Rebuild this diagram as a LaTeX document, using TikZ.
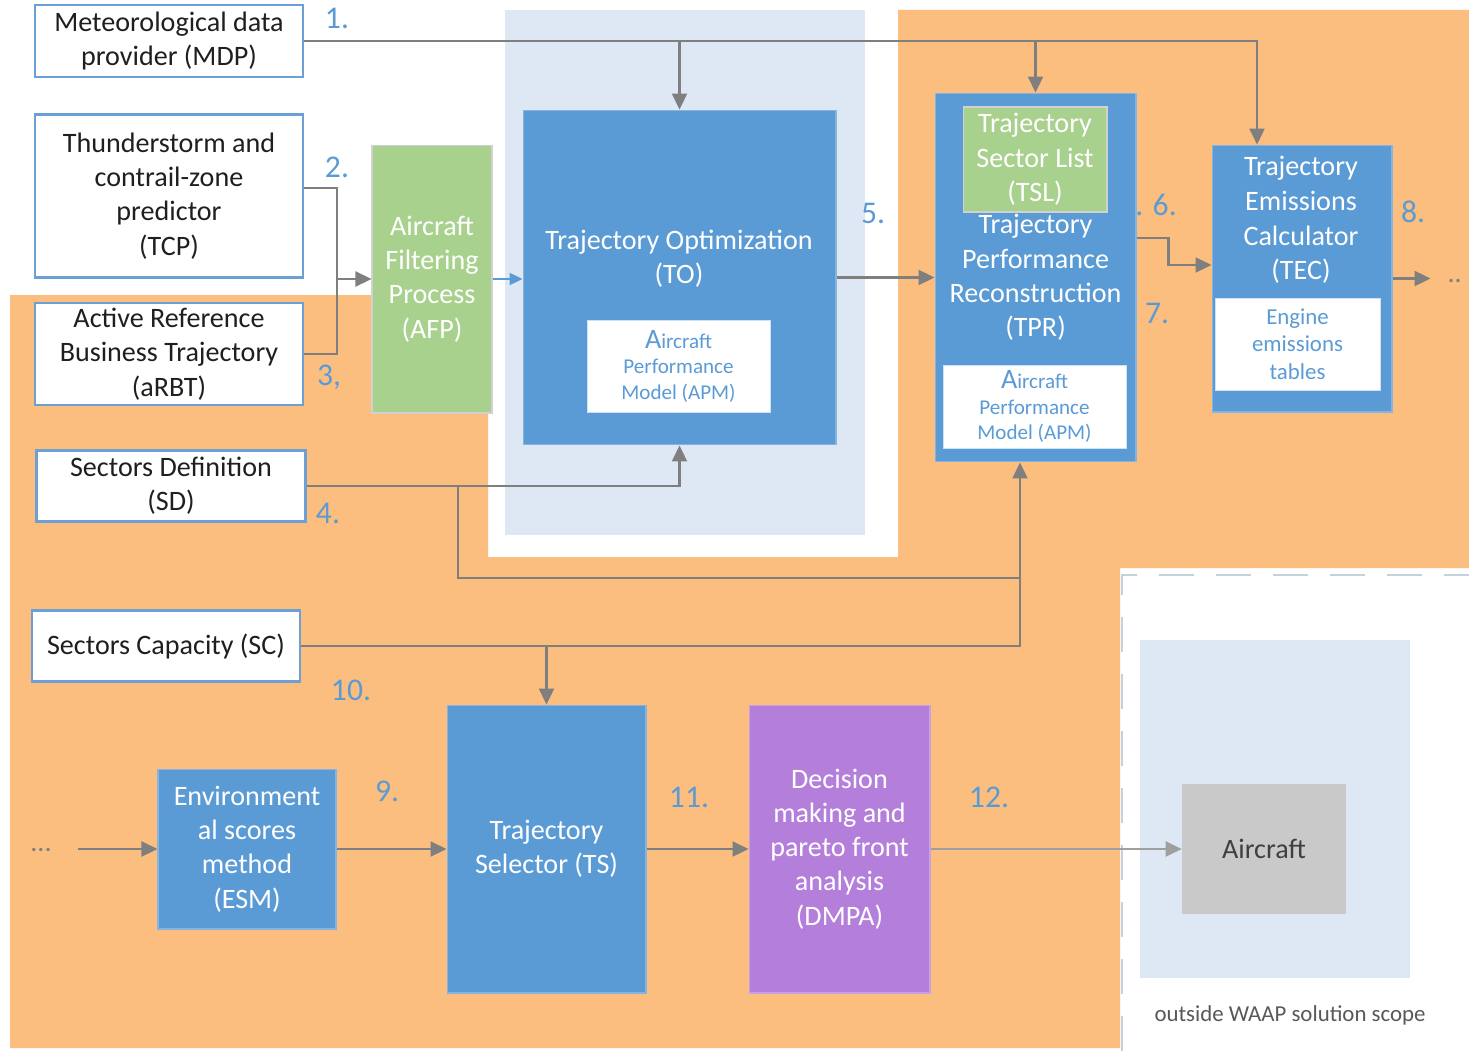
\documentclass[tikz,border=0pt]{standalone}
\usepackage{fontspec}
\setmainfont{Carlito}
\usetikzlibrary{calc, shapes, fit, arrows.meta}

\definecolor{bgorange}{HTML}{FBBE7E}
\definecolor{paleblue}{HTML}{DDE8F4}
\definecolor{blkblue}{HTML}{5B9BD5}
\definecolor{blkgreen}{HTML}{A9D18E}
\definecolor{blkpurple}{HTML}{B47FDB}
\definecolor{numblue}{HTML}{5B9BD5}
\definecolor{arrgray}{HTML}{7F7F7F}
\definecolor{boxline}{HTML}{6C9FD6}
\definecolor{acgray}{HTML}{C9C9C9}

\tikzset{
	inbox/.style={draw=boxline, line width=1.3pt, fill=white, align=center, text=black!88, inner sep=0pt, font=\fontsize{16}{19.5}\selectfont},
	blk/.style={fill=blkblue, draw=blkblue!75!white, line width=0.6pt, align=center, text=white, inner sep=0pt, font=\fontsize{16}{19.5}\selectfont},
	apm/.style={fill=white, draw=blkblue!30, line width=0.4pt, align=center, text=blkblue, inner sep=0pt, font=\fontsize{12}{14.5}\selectfont},
	num/.style={text=numblue, font=\fontsize{18}{20}\selectfont},
	con/.style={draw=arrgray, line width=1.3pt},
	arr/.style={con, -{Triangle[length=0.32cm,width=0.3cm]}},
}

\begin{document}
\begin{tikzpicture}[x=0.02cm, y=-0.02cm]
			\useasboundingbox (0,0) rectangle (1469,1051);
			% backgrounds
			\fill[white] (0,0) rectangle (1469,1051);
			\fill[bgorange] (10,295) -- (488,295) -- (488,557) -- (898,557) -- (898,10) -- (1469,10) -- (1469,568) -- (1120,568) -- (1120,1048) -- (10,1048) -- cycle;
			\fill[paleblue] (505,10) rectangle (865,535);
			\draw[draw=black!10!paleblue, line width=1.2pt, dash pattern=on 0.7cm off 0.44cm] (1122,1051) -- (1122,575) -- (1469,575);
			\fill[paleblue] (1140,640) rectangle (1410,978);
			
			% inputs
			\node (mdp) [inbox, minimum width=5.36cm, minimum height=1.44cm] at (169,41) {Meteorological data\\provider (MDP)};
			\node (tcp) [inbox, minimum width=5.36cm, minimum height=3.26cm] at (169,196) {Thunderstorm and\\contrail-zone\\predictor\\(TCP)};
			\node (arbt) [inbox, minimum width=5.36cm, minimum height=2.04cm] at (169,354) {Active Reference\\Business Trajectory\\(aRBT)};
			\node (sd) [inbox, minimum width=5.38cm, minimum height=1.42cm] at (171,486) {Sectors Definition\\(SD)};
			\node (sc) [inbox, minimum width=5.36cm, minimum height=1.42cm] at (166,646) {Sectors Capacity (SC)};
			
			% process blocks
			\node (afp) [blk, fill=blkgreen, draw=black!18, minimum width=2.4cm, minimum height=5.36cm] at (432,279) {Aircraft\\Filtering\\Process\\(AFP)};
			\node (to) [blk, minimum width=6.26cm, minimum height=6.7cm] at (679.5,277.5) {};
			\node (totxt) [text=white, align=center, font=\fontsize{16}{19.5}\selectfont] at (679,259) {Trajectory Optimization\\(TO)};
			\node (toapm) [apm, minimum width=3.66cm, minimum height=1.84cm] at (678.5,366) {{\fontsize{16}{14.5}\selectfont A}ircraft\\Performance\\Model (APM)};
			
			\node (tpr) [blk, minimum width=4.02cm, minimum height=7.38cm] at (1035.5,277.5) {Trajectory\\Performance\\Reconstruction\\(TPR)};
			\node (tsl) [blk, fill=blkgreen, draw=black!18, minimum width=2.88cm, minimum height=2.1cm] at (1035,159.5) {Trajectory\\Sector List\\(TSL)};
			\node (tprapm) [apm, minimum width=3.66cm, minimum height=1.66cm] at (1034.5,406.5) {{\fontsize{16}{14.5}\selectfont A}ircraft\\Performance\\Model (APM)};
			
			\node (tec) [blk, minimum width=3.6cm, minimum height=5.34cm] at (1302,278.5) {};
			\node (tectxt) [text=white, align=center, font=\fontsize{16}{19.8}\selectfont] at (1301,220) {Trajectory\\Emissions\\Calculator\\(TEC)};
			\node (tectab) [apm, font=\fontsize{13}{15.8}\selectfont, minimum width=3.3cm, minimum height=1.84cm] at (1297.5,344) {Engine\\emissions\\tables};
			
			\node (esm) [blk, minimum width=3.56cm, minimum height=3.2cm] at (247,849) {Environment\\al scores\\method\\(ESM)};
			\node (ts) [blk, minimum width=3.98cm, minimum height=5.76cm] at (546.5,849) {Trajectory\\Selector (TS)};
			\node (dmpa) [blk, fill=blkpurple, draw=blkpurple!75!white, minimum width=3.62cm, minimum height=5.76cm] at (839.5,849) {Decision\\making and\\pareto front\\analysis\\(DMPA)};
			\node (acft) [fill=acgray, text=black!75, inner sep=0pt, minimum width=3.28cm, minimum height=2.6cm, font=\fontsize{16}{19.5}\selectfont] at (1264,849) {Aircraft};
			\node (scope) [text=black!65, font=\fontsize{13}{15}\selectfont] at (1290,1015) {outside WAAP solution scope};
			
			\node (dotsl) [text=arrgray, font=\fontsize{16}{19.5}\selectfont] at (41,850) {...};
			\node (dotsr) [anchor=east, text=arrgray, font=\fontsize{16}{19.5}\selectfont] at (1468,281) {..};
			
			% numbers
			\node[num] (n1) at (337,18) {1.};
			\node[num] (n2) at (337,167) {2.};
			\node[num] (n3) at (329,377) {3,};
			\node[num] (n4) at (328,513) {4.};
			\node[num] (n5) at (873,213) {5.};
			\node[num] (n6) at (1156,205) {. 6.};
			\node[num] (n7) at (1157,313) {7.};
			\node[num] (n8) at (1413,212) {8.};
			\node[num] (n9) at (387,791) {9.};
			\node[num] (n10) at (351,690) {10.};
			\node[num] (n11) at (689,797) {11.};
			\node[num] (n12) at (989,797) {12.};
			
			% connectors
			\draw[arr] (mdp.east) -| ([xshift=-0.9cm]tec.north);
			\draw[arr] (to.north |- mdp.east) -- (to.north);
			\draw[arr] (tpr.north |- mdp.east) -- (tpr.north);
			
			\coordinate (jn) at (337,279);
			\draw[con] ([yshift=0.16cm]tcp.east) -| (jn) |- (arbt.east);
			\draw[arr] (jn) -- (afp.west);
			\draw[con, draw=blkblue, -{Triangle[length=0.26cm,width=0.24cm]}] (afp.east) -- (afp.east -| to.west);
			\draw[arr] (to.east) -- (tpr.west);
			\draw[arr] (tpr.east |- 0,238) -- ++(32,0) |- (tec.west |- 0,265);
			\draw[arr] (tec.east) -- ++(38,0);
			
			\draw[arr] (sd.east) -| (to.south);
			\coordinate (mergept) at (1020,578);
			\draw[arr] (sd.east -| 458,0) |- (mergept) -- (tpr.south -| mergept);
			\draw[con] (sc.east) -| (mergept);
			\draw[arr] (ts.north |- sc.east) -- (ts.north);
			
			\coordinate (esmin) at (78,849);
			\draw[arr] (esmin) -- (esm.west);
			\draw[arr] (esm.east) -- (ts.west);
			\draw[arr] (ts.east) -- (dmpa.west);
			\draw[arr, draw=arrgray!75] (dmpa.east) -- (acft.west);
		\end{tikzpicture}
\end{document}
